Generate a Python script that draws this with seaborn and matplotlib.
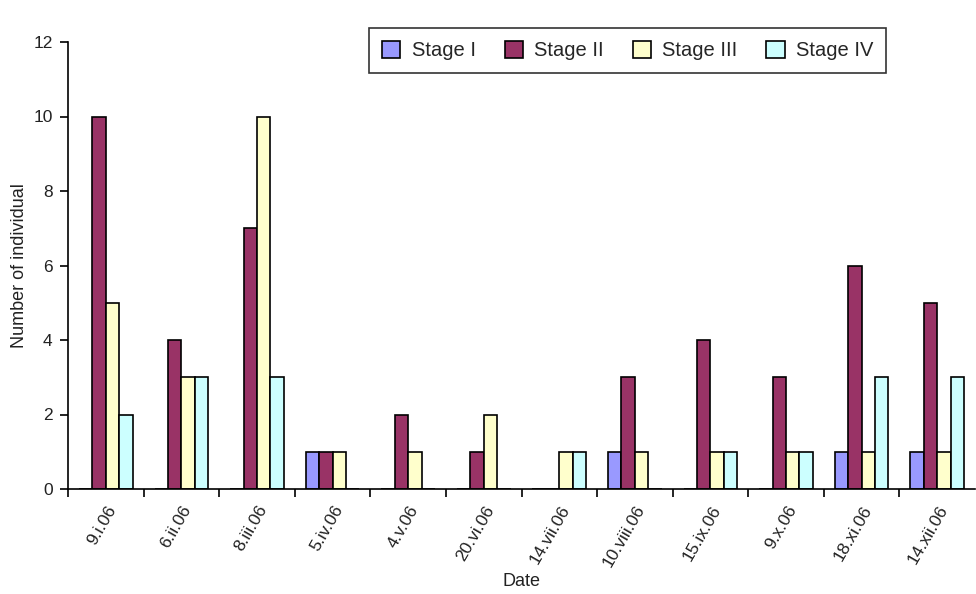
import pandas as pd
import matplotlib.pyplot as plt
import seaborn as sns

dates = ["9.i.06", "6.ii.06", "8.iii.06", "5.iv.06", "4.v.06", "20.vi.06",
         "14.vii.06", "10.viii.06", "15.ix.06", "9.x.06", "18.xi.06", "14.xii.06"]
stage_1 = [0, 0, 0, 1, 0, 0, 0, 1, 0, 0, 1, 1]
stage_2 = [10, 4, 7, 1, 2, 1, 0, 3, 4, 3, 6, 5]
stage_3 = [5, 3, 10, 1, 1, 2, 1, 1, 1, 1, 1, 1]
stage_4 = [2, 3, 3, 0, 0, 0, 1, 0, 1, 1, 3, 3]
stages = ["Stage I", "Stage II", "Stage III", "Stage IV"]
colors = ["#9999FF", "#993366", "#FFFFCC", "#CCFFFF"]

# long-form table for seaborn
rows = []
for name, vals in zip(stages, [stage_1, stage_2, stage_3, stage_4]):
    for d, v in zip(dates, vals):
        rows.append({"Date": d, "Stage": name, "Count": v})
df = pd.DataFrame(rows)

sns.set_style("white")
plt.rcParams["font.family"] = ["Liberation Sans", "DejaVu Sans"]

fig = plt.figure(figsize=(9.76, 5.94), dpi=100)
ax = fig.add_axes([68 / 976, 1 - 489 / 594, 1 - 68 / 976 - 0.001, (489 - 42) / 594])

sns.barplot(data=df, x="Date", y="Count", hue="Stage", order=dates,
            hue_order=stages, palette=colors, width=0.71, gap=0,
            edgecolor="black", linewidth=1.2, saturation=1, ax=ax)

ax.set_xlim(-0.5, len(dates) - 0.5)
ax.set_ylim(0, 12)
ax.set_yticks(range(0, 13, 2))
ax.set_xticks([i - 0.5 for i in range(len(dates))], minor=False)
ax.set_xticklabels([])
ax.set_xticks(range(len(dates)), minor=True)
ax.set_xticklabels(dates, minor=True, rotation=60, ha="right",
                   rotation_mode="anchor", fontsize=12.5, color="#222222")
ax.tick_params(axis="x", which="minor", length=0, pad=10)
ax.tick_params(axis="x", which="major", direction="out", length=6,
               width=1.2, color="black", bottom=True)
ax.tick_params(axis="y", direction="out", length=6, width=1.2, pad=5,
               color="black", left=True, labelsize=12.5, labelcolor="#222222")

for s in ["top", "right"]:
    ax.spines[s].set_visible(False)
for s in ["left", "bottom"]:
    ax.spines[s].set_color("black")
    ax.spines[s].set_linewidth(1.2)

ax.set_xlabel("Date", fontsize=13, color="#222222", labelpad=2)
ax.set_ylabel("Number of individual", fontsize=13, color="#222222", labelpad=4)

leg = ax.legend(loc="center", bbox_to_anchor=(0.617, 0.981), ncol=4,
                frameon=True, fancybox=False, fontsize=14.5,
                handlelength=0.9, handleheight=0.9, columnspacing=1.45,
                handletextpad=0.55, borderpad=0.65)
leg.get_frame().set_edgecolor("black")
leg.get_frame().set_linewidth(1.2)

fig.savefig("out.png", dpi=100)
